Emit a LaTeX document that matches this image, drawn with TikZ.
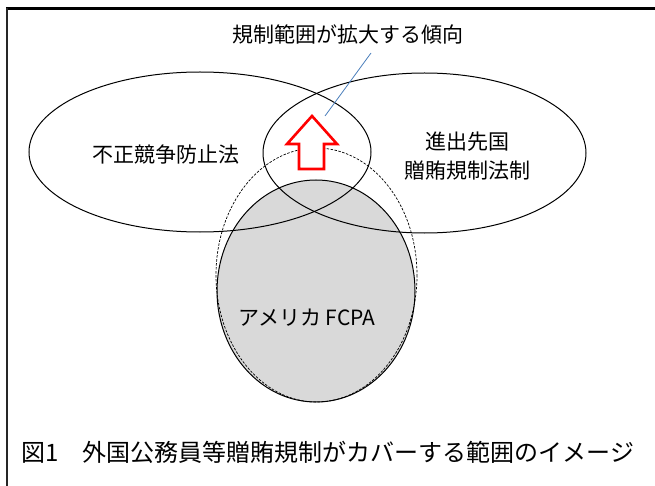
\documentclass[tikz,border=0pt]{standalone}
\usepackage{fontspec}
\newfontfamily\jp{Noto Sans CJK JP}
\begin{document}
\begin{tikzpicture}[x=1pt,y=-1pt,
  lbl/.style={font=\jp\fontsize{21}{24}\selectfont, inner sep=0pt, align=center},
  venn/.style={draw=black, line width=1pt},
]
\useasboundingbox (0,0) rectangle (655,486);
% frame
\draw[line width=3pt] (6,9) -- (655,9);
\draw[line width=2pt, black!85] (7,8) -- (7,486);
% FCPA shaded
\fill[black!15] (316,291) ellipse [x radius=99, y radius=111];
\draw[venn] (316,291) ellipse [x radius=99, y radius=111];
% dashed ellipse
\draw[line width=0.7pt, dash pattern=on 2.5pt off 1.5pt] (316.5,275) ellipse [x radius=100.5, y radius=127];
% left & right ellipses
\draw[venn] (200,152) ellipse [x radius=171, y radius=80];
\draw[venn] (424.5,153) ellipse [x radius=161.5, y radius=80];
% red arrow
\draw[red, line width=2.6pt, fill=white, line join=miter]
  (312,116) -- (337,144) -- (324,144) -- (324,169) -- (299,169) -- (299,144) -- (287,144) -- cycle;
% labels
\node[lbl] (top) at (348,35) {規制範囲が拡大する傾向};
\coordinate (tipA) at (371,53);
\coordinate (tipB) at (325,116);
\draw[color={rgb,255:red,74;green,126;blue,187}, line width=0.8pt] (tipA) -- (tipB);
\node[lbl] (ufc) at (166,155) {不正競争防止法};
\node[lbl] (adv) at (467,156) {進出先国\\[5pt]贈賄規制法制};
\node[lbl] (fcpa) at (307,318) {アメリカ FCPA};
\node[font=\jp\fontsize{24}{26}\selectfont, inner sep=0pt, anchor=west] (cap) at (21,452) {図1　外国公務員等贈賄規制がカバーする範囲のイメージ};
\end{tikzpicture}
\end{document}
